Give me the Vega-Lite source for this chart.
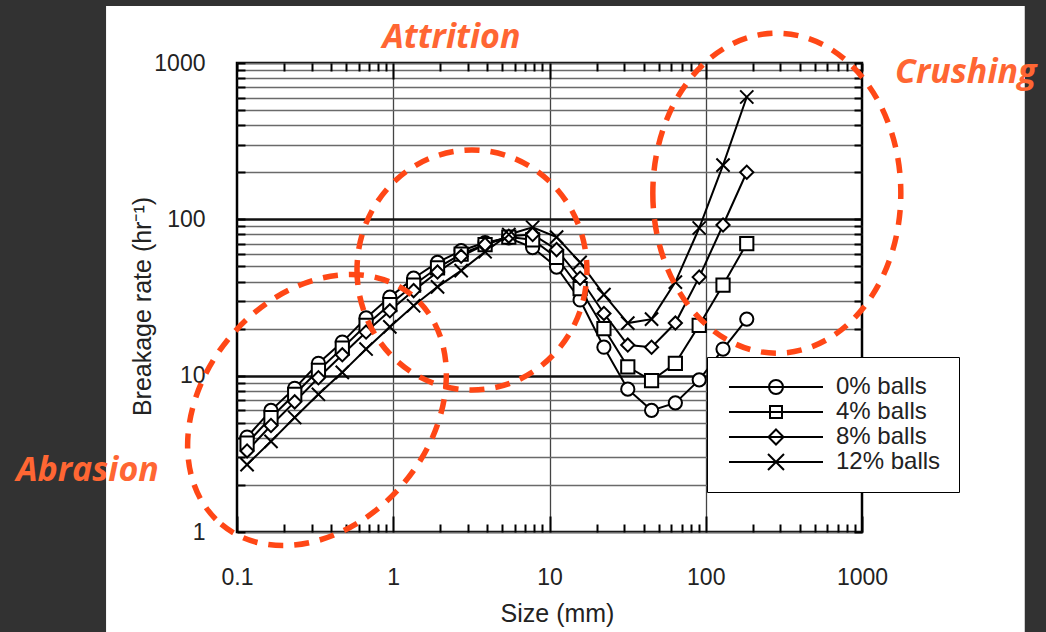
{
  "$schema": "https://vega.github.io/schema/vega-lite/v6.json",
  "width": 625,
  "height": 469,
  "autosize": {"type": "none"},
  "padding": {"left": 237, "top": 63, "right": 184, "bottom": 100},
  "background": "#ffffff",
  "config": {"view": {"stroke": "black", "strokeWidth": 2.5}, "font": "Liberation Sans"},
  "datasets": {
    "main": [
      {"size": 0.116, "rate": 4.05, "series": "0% balls"},
      {"size": 0.165, "rate": 6.0, "series": "0% balls"},
      {"size": 0.234, "rate": 8.3, "series": "0% balls"},
      {"size": 0.332, "rate": 12.0, "series": "0% balls"},
      {"size": 0.472, "rate": 16.4, "series": "0% balls"},
      {"size": 0.67, "rate": 23.4, "series": "0% balls"},
      {"size": 0.951, "rate": 31.8, "series": "0% balls"},
      {"size": 1.35, "rate": 42, "series": "0% balls"},
      {"size": 1.92, "rate": 53, "series": "0% balls"},
      {"size": 2.72, "rate": 63, "series": "0% balls"},
      {"size": 3.87, "rate": 71, "series": "0% balls"},
      {"size": 5.49, "rate": 76, "series": "0% balls"},
      {"size": 7.8, "rate": 66, "series": "0% balls"},
      {"size": 11.1, "rate": 49.5, "series": "0% balls"},
      {"size": 15.7, "rate": 30.5, "series": "0% balls"},
      {"size": 22.3, "rate": 15.2, "series": "0% balls"},
      {"size": 31.7, "rate": 8.2, "series": "0% balls"},
      {"size": 45, "rate": 6.0, "series": "0% balls"},
      {"size": 63.9, "rate": 6.7, "series": "0% balls"},
      {"size": 90.8, "rate": 9.4, "series": "0% balls"},
      {"size": 129, "rate": 14.8, "series": "0% balls"},
      {"size": 183, "rate": 23, "series": "0% balls"},
      {"size": 0.116, "rate": 3.7, "series": "4% balls"},
      {"size": 0.165, "rate": 5.4, "series": "4% balls"},
      {"size": 0.234, "rate": 7.6, "series": "4% balls"},
      {"size": 0.332, "rate": 10.8, "series": "4% balls"},
      {"size": 0.472, "rate": 15.0, "series": "4% balls"},
      {"size": 0.67, "rate": 21, "series": "4% balls"},
      {"size": 0.951, "rate": 28.5, "series": "4% balls"},
      {"size": 1.35, "rate": 38, "series": "4% balls"},
      {"size": 1.92, "rate": 49, "series": "4% balls"},
      {"size": 2.72, "rate": 60, "series": "4% balls"},
      {"size": 3.87, "rate": 69, "series": "4% balls"},
      {"size": 5.49, "rate": 77, "series": "4% balls"},
      {"size": 7.8, "rate": 74, "series": "4% balls"},
      {"size": 11.1, "rate": 57, "series": "4% balls"},
      {"size": 15.7, "rate": 36, "series": "4% balls"},
      {"size": 22.3, "rate": 20, "series": "4% balls"},
      {"size": 31.7, "rate": 11.4, "series": "4% balls"},
      {"size": 45, "rate": 9.3, "series": "4% balls"},
      {"size": 63.9, "rate": 12.0, "series": "4% balls"},
      {"size": 90.8, "rate": 21, "series": "4% balls"},
      {"size": 129, "rate": 38, "series": "4% balls"},
      {"size": 183, "rate": 70, "series": "4% balls"},
      {"size": 0.116, "rate": 3.3, "series": "8% balls"},
      {"size": 0.165, "rate": 4.8, "series": "8% balls"},
      {"size": 0.234, "rate": 6.8, "series": "8% balls"},
      {"size": 0.332, "rate": 9.7, "series": "8% balls"},
      {"size": 0.472, "rate": 13.6, "series": "8% balls"},
      {"size": 0.67, "rate": 19, "series": "8% balls"},
      {"size": 0.951, "rate": 26, "series": "8% balls"},
      {"size": 1.35, "rate": 35, "series": "8% balls"},
      {"size": 1.92, "rate": 46, "series": "8% balls"},
      {"size": 2.72, "rate": 58, "series": "8% balls"},
      {"size": 3.87, "rate": 69, "series": "8% balls"},
      {"size": 5.49, "rate": 78, "series": "8% balls"},
      {"size": 7.8, "rate": 80, "series": "8% balls"},
      {"size": 11.1, "rate": 64, "series": "8% balls"},
      {"size": 15.7, "rate": 42, "series": "8% balls"},
      {"size": 22.3, "rate": 25, "series": "8% balls"},
      {"size": 31.7, "rate": 15.7, "series": "8% balls"},
      {"size": 45, "rate": 15.2, "series": "8% balls"},
      {"size": 63.9, "rate": 21.7, "series": "8% balls"},
      {"size": 90.8, "rate": 42.7, "series": "8% balls"},
      {"size": 129, "rate": 92, "series": "8% balls"},
      {"size": 183, "rate": 200, "series": "8% balls"},
      {"size": 0.116, "rate": 2.7, "series": "12% balls"},
      {"size": 0.165, "rate": 3.8, "series": "12% balls"},
      {"size": 0.234, "rate": 5.4, "series": "12% balls"},
      {"size": 0.332, "rate": 7.6, "series": "12% balls"},
      {"size": 0.472, "rate": 10.5, "series": "12% balls"},
      {"size": 0.67, "rate": 14.8, "series": "12% balls"},
      {"size": 0.951, "rate": 20.5, "series": "12% balls"},
      {"size": 1.35, "rate": 28, "series": "12% balls"},
      {"size": 1.92, "rate": 37, "series": "12% balls"},
      {"size": 2.72, "rate": 47, "series": "12% balls"},
      {"size": 3.87, "rate": 62, "series": "12% balls"},
      {"size": 5.49, "rate": 80, "series": "12% balls"},
      {"size": 7.8, "rate": 89, "series": "12% balls"},
      {"size": 11.1, "rate": 77, "series": "12% balls"},
      {"size": 15.7, "rate": 53, "series": "12% balls"},
      {"size": 22.3, "rate": 33, "series": "12% balls"},
      {"size": 31.7, "rate": 21.7, "series": "12% balls"},
      {"size": 45, "rate": 23, "series": "12% balls"},
      {"size": 63.9, "rate": 39.7, "series": "12% balls"},
      {"size": 90.8, "rate": 88, "series": "12% balls"},
      {"size": 129, "rate": 222, "series": "12% balls"},
      {"size": 183, "rate": 606, "series": "12% balls"}
    ],
    "strips": [
      {"x0": 0.000001, "x1": 0.01452, "y0": 0.0001, "y1": 1000000},
      {"x0": 11006, "x1": 100000000, "y0": 0.0001, "y1": 1000000},
      {"x0": 0.000001, "x1": 100000000, "y0": 2316, "y1": 1000000}
    ],
    "labels": [
      {"x": 2.357, "y": 1247, "label": "Attrition"},
      {"x": 4613, "y": 745, "label": "Crushing"},
      {"x": 0.01105, "y": 2.117, "label": "Abrasion"}
    ]
  },
  "layer": [
    {
      "data": {"name": "strips"},
      "mark": {"type": "rect", "color": "#323232"},
      "encoding": {
        "x": {"field": "x0", "type": "quantitative", "scale": {"type": "log", "domain": [0.1, 1000], "nice": false}, "axis": null},
        "x2": {"field": "x1"},
        "y": {"field": "y0", "type": "quantitative", "scale": {"type": "log", "domain": [1, 1000], "nice": false}, "axis": null},
        "y2": {"field": "y1"}
      }
    },
    {
      "data": {"name": "main"},
      "mark": {"type": "line", "color": "black", "strokeWidth": 2},
      "encoding": {
        "x": {
          "field": "size", "type": "quantitative",
          "scale": {"type": "log", "domain": [0.1, 1000], "nice": false},
          "axis": {
            "orient": "bottom",
            "values": [0.1,0.2,0.3,0.4,0.5,0.6,0.7,0.8,0.9,1,2,3,4,5,6,7,8,9,10,20,30,40,50,60,70,80,90,100,200,300,400,500,600,700,800,900,1000],
            "domain": false,
            "ticks": true,
            "tickColor": "black",
            "tickWidth": 2,
            "tickSize": {"condition": {"test": "datum.value == 0.1 || datum.value == 1 || datum.value == 10 || datum.value == 100 || datum.value == 1000", "value": -16}, "value": -8},
            "labelExpr": "(datum.value == 0.1 || datum.value == 1 || datum.value == 10 || datum.value == 100 || datum.value == 1000) ? '' + datum.value : ''",
            "labelFont": "Liberation Sans",
            "labelFontSize": 23,
            "labelColor": "#222222",
            "labelPadding": 50,
            "labelFlush": false,
            "labelOverlap": false,
            "grid": true,
            "gridColor": "#444444",
            "gridWidth": 1.3,
            "gridOpacity": {"condition": {"test": "datum.value == 1 || datum.value == 10 || datum.value == 100", "value": 1}, "value": 0},
            "title": "Size (mm)",
            "titleFont": "Liberation Sans",
            "titleFontSize": 25,
            "titleFontWeight": "normal",
            "titleColor": "#222222",
            "titleBaseline": "alphabetic",
            "titleX": 320,
            "titleY": 89
          }
        },
        "y": {
          "field": "rate", "type": "quantitative",
          "scale": {"type": "log", "domain": [1, 1000], "nice": false},
          "axis": {
            "orient": "left",
            "values": [1,2,3,4,5,6,7,8,9,10,20,30,40,50,60,70,80,90,100,200,300,400,500,600,700,800,900,1000],
            "domain": false,
            "ticks": true,
            "tickColor": "black",
            "tickWidth": 2,
            "tickSize": -8,
            "labelExpr": "(datum.value == 1 || datum.value == 10 || datum.value == 100 || datum.value == 1000) ? '' + datum.value : ''",
            "labelFont": "Liberation Sans",
            "labelFontSize": 23,
            "labelColor": "#222222",
            "labelPadding": 40,
            "labelOverlap": false,
            "labelFlush": false,
            "grid": true,
            "gridColor": {"condition": {"test": "datum.value == 10 || datum.value == 100", "value": "#111111"}, "value": "#6a6a6a"},
            "gridWidth": {"condition": {"test": "datum.value == 10 || datum.value == 100", "value": 2.5}, "value": 1.4},
            "title": "Breakage rate (hr⁻¹)",
            "titleFont": "Liberation Sans",
            "titleFontSize": 25,
            "titleFontWeight": "normal",
            "titleColor": "#222222",
            "titleBaseline": "alphabetic",
            "titleX": -87,
            "titleY": 243
          }
        },
        "detail": {"field": "series", "type": "nominal"}
      }
    },
    {
      "data": {"name": "main"},
      "mark": {"type": "point", "filled": true, "fill": "white", "stroke": "black", "strokeWidth": 2, "opacity": 1, "size": 175},
      "encoding": {
        "x": {
          "field": "size", "type": "quantitative",
          "scale": {"type": "log", "domain": [0.1, 1000], "nice": false},
          "axis": {
            "orient": "top",
            "values": [0.1,0.2,0.3,0.4,0.5,0.6,0.7,0.8,0.9,1,2,3,4,5,6,7,8,9,10,20,30,40,50,60,70,80,90,100,200,300,400,500,600,700,800,900,1000],
            "domain": false,
            "labels": false,
            "grid": false,
            "title": null,
            "tickColor": "black",
            "tickWidth": 2,
            "tickSize": {"condition": {"test": "datum.value == 1 || datum.value == 10 || datum.value == 100", "value": -16}, "value": -8}
          }
        },
        "y": {
          "field": "rate", "type": "quantitative",
          "scale": {"type": "log", "domain": [1, 1000], "nice": false},
          "axis": {
            "orient": "right",
            "values": [1,2,3,4,5,6,7,8,9,10,20,30,40,50,60,70,80,90,100,200,300,400,500,600,700,800,900,1000],
            "domain": false,
            "labels": false,
            "grid": false,
            "title": null,
            "tickColor": "black",
            "tickWidth": 2,
            "tickSize": -8
          }
        },
        "shape": {
          "field": "series", "type": "nominal",
          "scale": {"domain": ["0% balls", "4% balls", "8% balls", "12% balls"], "range": ["circle", "square", "diamond", "M -1,-1 L 1,1 M -1,1 L 1,-1"]},
          "legend": null
        }
      }
    },
    {
      "data": {"name": "main"},
      "transform": [{"filter": "datum.rate < 0"}],
      "mark": {"type": "point", "filled": true, "fill": "white", "stroke": "black", "strokeWidth": 2, "opacity": 1, "size": 484},
      "encoding": {
        "x": {"field": "size", "type": "quantitative", "scale": {"type": "log", "domain": [0.1, 1000], "nice": false}, "axis": null},
        "y": {"field": "rate", "type": "quantitative", "scale": {"type": "log", "domain": [1, 1000], "nice": false}, "axis": null},
        "shape": {
          "field": "series", "type": "nominal",
          "scale": {"domain": ["0% balls", "4% balls", "8% balls", "12% balls"], "range": [
            "M-0.727,0L7.818,0M2.909,0A0.636,0.636 0 1,0 4.181,0A0.636,0.636 0 1,0 2.909,0Z",
            "M-0.727,0L7.818,0M3,-0.545L4.09,-0.545L4.09,0.545L3,0.545Z",
            "M-0.727,0L7.818,0M3.545,-0.682L4.227,0L3.545,0.682L2.863,0Z",
            "M-0.727,0L7.818,0M2.818,-0.727L4.272,0.727M2.818,0.727L4.272,-0.727"
          ]},
          "legend": {
            "orient": "none",
            "legendX": 470,
            "legendY": 294,
            "title": null,
            "padding": 18,
            "strokeColor": "black",
            "fillColor": "white",
            "labelFont": "Liberation Sans",
            "labelFontSize": 24,
            "labelColor": "#222222",
            "labelOffset": 87,
            "rowPadding": 1,
            "symbolSize": 484,
            "symbolStrokeWidth": 2
          }
        }
      }
    },
    {
      "data": {"values": [{"x": 0.325, "y": 6.03, "region": "abrasion"}]},
      "mark": {"type": "point", "filled": false, "stroke": "#ff4716", "strokeWidth": 5.5, "strokeDash": [15, 11], "opacity": 1, "shape": "M -1,0 A 1,0.762 0 1,0 1,0 A 1,0.762 0 1,0 -1,0", "size": 88804, "angle": -50},
      "encoding": {
        "x": {"field": "x", "type": "quantitative", "scale": {"type": "log", "domain": [0.1, 1000], "nice": false}, "axis": null},
        "y": {"field": "y", "type": "quantitative", "scale": {"type": "log", "domain": [1, 1000], "nice": false}, "axis": null}
      }
    },
    {
      "data": {"values": [{"x": 3.19, "y": 47.4, "region": "attrition"}]},
      "mark": {"type": "point", "filled": false, "stroke": "#ff4716", "strokeWidth": 5.5, "strokeDash": [15, 11], "opacity": 1, "shape": "M -0.958,0 A 0.958,1 0 1,0 0.958,0 A 0.958,1 0 1,0 -0.958,0", "size": 57600},
      "encoding": {
        "x": {"field": "x", "type": "quantitative", "scale": {"type": "log", "domain": [0.1, 1000], "nice": false}, "axis": null},
        "y": {"field": "y", "type": "quantitative", "scale": {"type": "log", "domain": [1, 1000], "nice": false}, "axis": null}
      }
    },
    {
      "data": {"values": [{"x": 285, "y": 147, "region": "crushing"}]},
      "mark": {"type": "point", "filled": false, "stroke": "#ff4716", "strokeWidth": 5.5, "strokeDash": [15, 11], "opacity": 1, "shape": "M -0.775,0 A 0.775,1 0 1,0 0.775,0 A 0.775,1 0 1,0 -0.775,0", "size": 102400},
      "encoding": {
        "x": {"field": "x", "type": "quantitative", "scale": {"type": "log", "domain": [0.1, 1000], "nice": false}, "axis": null},
        "y": {"field": "y", "type": "quantitative", "scale": {"type": "log", "domain": [1, 1000], "nice": false}, "axis": null}
      }
    },
    {
      "data": {"name": "labels"},
      "mark": {"type": "text", "font": "Open Sans", "fontSize": 34, "fontWeight": "bold", "fontStyle": "italic", "color": "#ff6633", "align": "center", "baseline": "alphabetic"},
      "encoding": {
        "x": {"field": "x", "type": "quantitative", "scale": {"type": "log", "domain": [0.1, 1000], "nice": false}, "axis": null},
        "y": {"field": "y", "type": "quantitative", "scale": {"type": "log", "domain": [1, 1000], "nice": false}, "axis": null},
        "text": {"field": "label"}
      }
    }
  ],
  "resolve": {"axis": {"x": "independent", "y": "independent"}, "scale": {"shape": "independent"}}
}
